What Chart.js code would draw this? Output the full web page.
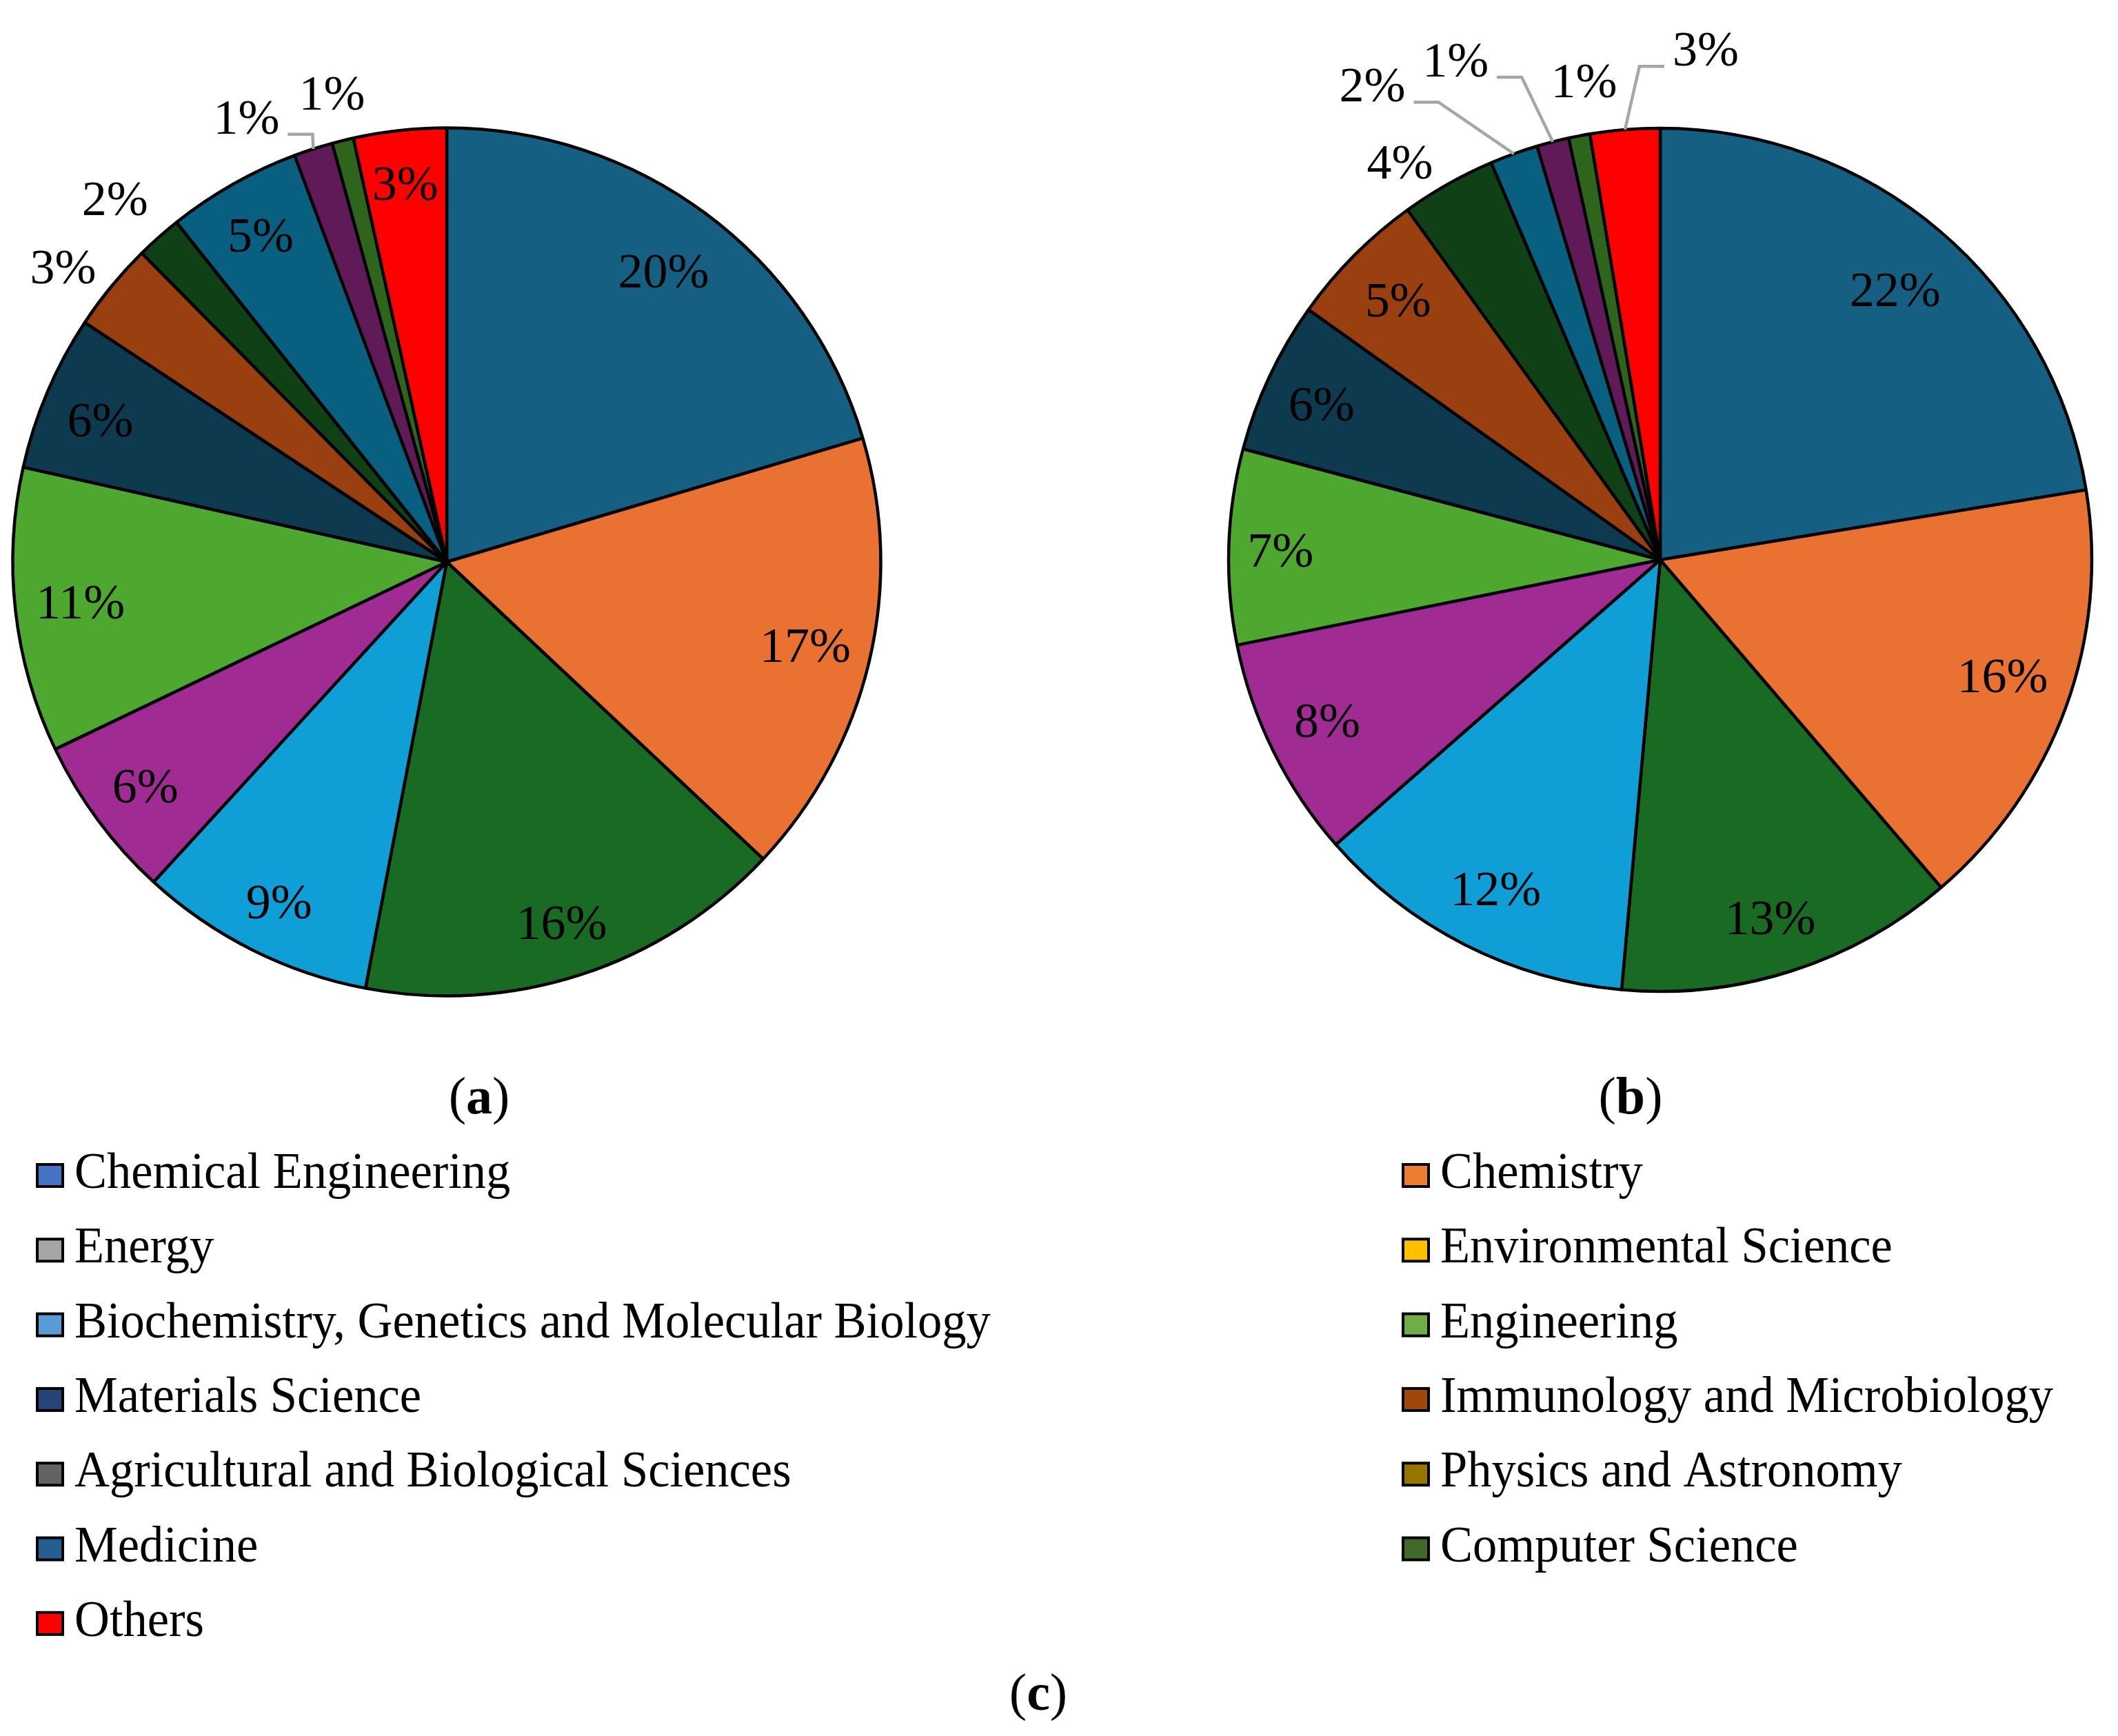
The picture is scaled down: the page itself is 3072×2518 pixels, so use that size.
<!DOCTYPE html>
<html>
<head>
<meta charset="utf-8">
<script src="https://cdn.jsdelivr.net/npm/chart.js@4.4.1/dist/chart.umd.min.js"></script>
<style>
  html, body { margin: 0; padding: 0; background: #ffffff; }
  #wrap { position: relative; width: 3072px; height: 2518px; overflow: hidden; background: #ffffff; }
  canvas { position: absolute; left: 0; top: 0; }
</style>
</head>
<body>
<div id="wrap">
  <canvas id="pieA" width="3072" height="2518" style="width:3072px;height:2518px"></canvas>
  <canvas id="pieB" width="3072" height="2518" style="width:3072px;height:2518px"></canvas>
</div>
<script>
// ---------- data (shares in %; labels are rounded) ----------
const categories = [
  'Chemical Engineering', 'Chemistry', 'Energy', 'Environmental Science',
  'Biochemistry, Genetics and Molecular Biology', 'Engineering',
  'Materials Science', 'Immunology and Microbiology',
  'Agricultural and Biological Sciences', 'Physics and Astronomy',
  'Medicine', 'Computer Science', 'Others'
];
const shareA = [20.4, 16.6, 16.0, 8.8, 6.1, 10.6, 5.8, 3.3, 1.7, 5.0, 1.45, 0.8, 3.45];
const shareB = [22.4, 16.3, 12.7, 12.1, 8.3, 7.3, 5.7, 5.2, 3.55, 1.8, 1.2, 0.8, 2.6];
const sliceColors = ['#156082', '#E97132', '#196B24', '#0F9ED5', '#A02B93', '#4EA72E',
                     '#0D3A4E', '#9A4010', '#0F4016', '#095F80', '#601A58', '#2F641C', '#FF0000'];
const legendColors = ['#4472C4', '#ED7D31', '#A5A5A5', '#FFC000', '#5B9BD5', '#70AD47',
                      '#264478', '#9E480E', '#636363', '#997300', '#255E91', '#43682B', '#FF0000'];
const panelLetters = ['a', 'b', 'c'];

// ---------- label layout (radius factor, angular shift in degrees, leader lines) ----------
const labelRadA = [0.83, 0.85, 0.88, 0.88, 0.87, 0.85, 0.86, 1.11, 1.128, 0.86, 1.117, 1.104, 0.87];
const labelShiftA = [0.3, 0.3, 0.5, -0.6, -0.5, -0.3, -1.2, -2.2, -1.1, -0.4, -6.5, 0, -0.1];
const leadersA = [10];
const labelRadB = [0.824, 0.84, 0.875, 0.86, 0.86, 0.88, 0.86, 0.85, 1.094, 1.28, 1.244, 1.116, 1.18];
const labelShiftB = [1.0, -0.8, 0.8, -0.6, 0.1, -0.8, -1.0, -0.4, -4.0, -11.6, -8.0, 1.7, 9.8];
const leadersB = [9, 10, 12];

const SERIF = '"Liberation Serif", "Times New Roman", serif';

function labelPlugin(radFactors, shifts, leaders) {
  return {
    id: 'pctLabels',
    afterDatasetsDraw(chart) {
      const ctx = chart.ctx;
      const meta = chart.getDatasetMeta(0);
      const values = chart.data.datasets[0].data;
      ctx.save();
      ctx.font = '72px ' + SERIF;
      ctx.fillStyle = '#000000';
      ctx.textAlign = 'center';
      ctx.textBaseline = 'middle';
      meta.data.forEach((arc, i) => {
        const p = arc.getProps(['x', 'y', 'startAngle', 'endAngle', 'outerRadius'], true);
        const mid0 = (p.startAngle + p.endAngle) / 2;
        const mid = mid0 + shifts[i] * Math.PI / 180;
        const r = p.outerRadius * radFactors[i];
        const lx = p.x + Math.cos(mid) * r;
        const ly = p.y + Math.sin(mid) * r;
        const txt = Math.round(values[i]) + '%';
        ctx.fillText(txt, lx, ly);
        if (leaders.indexOf(i) >= 0) {
          const w = ctx.measureText(txt).width;
          const ax = p.x + Math.cos(mid0) * p.outerRadius;
          const ay = p.y + Math.sin(mid0) * p.outerRadius;
          const dir = ax > lx ? 1 : -1;
          const sx = lx + dir * (w / 2 + 12);
          const sy = ly + 20;
          ctx.save();
          ctx.strokeStyle = '#A6A6A6';
          ctx.lineWidth = 4.5;
          ctx.lineJoin = 'miter';
          ctx.beginPath();
          ctx.moveTo(sx, sy);
          ctx.lineTo(sx + dir * 36, sy);
          ctx.lineTo(ax, ay);
          ctx.stroke();
          ctx.restore();
        }
      });
      ctx.restore();
    }
  };
}

function drawCaption(ctx, letter, cx, baseline) {
  const size = 76;
  ctx.font = size + 'px ' + SERIF;
  const wp = ctx.measureText('(').width;
  const wq = ctx.measureText(')').width;
  ctx.font = 'bold ' + size + 'px ' + SERIF;
  const wl = ctx.measureText(letter).width;
  const total = wp + wl + wq;
  let x = cx - total / 2;
  ctx.textAlign = 'left';
  ctx.textBaseline = 'alphabetic';
  ctx.font = size + 'px ' + SERIF;
  ctx.fillText('(', x, baseline);
  x += wp;
  ctx.font = 'bold ' + size + 'px ' + SERIF;
  ctx.fillText(letter, x, baseline);
  x += wl;
  ctx.font = size + 'px ' + SERIF;
  ctx.fillText(')', x, baseline);
}

const pageDecor = {
  id: 'pageDecor',
  afterDraw(chart) {
    const ctx = chart.ctx;
    ctx.save();
    ctx.fillStyle = '#000000';
    drawCaption(ctx, panelLetters[0], 695, 1615);
    drawCaption(ctx, panelLetters[1], 2365, 1615);
    drawCaption(ctx, panelLetters[2], 1506, 2480);

    // legend (two columns, row-wise order)
    categories.forEach((name, i) => {
      const col = i % 2;
      const row = Math.floor(i / 2);
      const sqX = col === 0 ? 52 : 2033;
      const base = 1723 + row * 108.3;
      ctx.fillStyle = legendColors[i];
      ctx.fillRect(sqX + 2, base - 34, 37, 32);
      ctx.strokeStyle = '#000000';
      ctx.lineWidth = 4;
      ctx.strokeRect(sqX + 2, base - 34, 37, 32);
      ctx.save();
      ctx.translate(sqX + 56, base);
      ctx.scale(0.94, 1);
      ctx.fillStyle = '#000000';
      ctx.font = '75px ' + SERIF;
      ctx.textAlign = 'left';
      ctx.textBaseline = 'alphabetic';
      ctx.fillText(name, 0, 0);
      ctx.restore();
    });
    ctx.restore();
  }
};

function makePie(canvasId, values, radius, padding, plugins) {
  return new Chart(document.getElementById(canvasId), {
    type: 'pie',
    data: {
      labels: categories,
      datasets: [{
        data: values,
        backgroundColor: sliceColors,
        borderColor: '#000000',
        borderWidth: 4.5,
        hoverOffset: 0
      }]
    },
    options: {
      responsive: false,
      maintainAspectRatio: false,
      devicePixelRatio: 1,
      animation: false,
      radius: radius,
      layout: { padding: padding },
      plugins: {
        legend: { display: false },
        tooltip: { enabled: false },
        title: { display: false }
      },
      events: []
    },
    plugins: plugins
  });
}

// Pie (a): centre at (648, 815); Pie (b): centre at (2408, 812)
makePie('pieA', shareA, 629.5, { left: 0, right: 1776, top: 0, bottom: 888 },
        [labelPlugin(labelRadA, labelShiftA, leadersA), pageDecor]);
makePie('pieB', shareB, 626, { left: 1744, right: 0, top: 0, bottom: 894 },
        [labelPlugin(labelRadB, labelShiftB, leadersB)]);
</script>
</body>
</html>
